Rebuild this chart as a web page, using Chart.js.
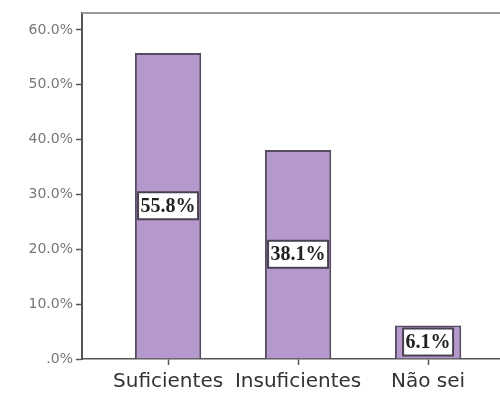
<!DOCTYPE html>
<html>
<head>
<meta charset="utf-8">
<script src="https://cdn.jsdelivr.net/npm/chart.js@4/dist/chart.umd.min.js"></script>
<style>
  body { margin: 0; background: #fff; }
  #wrap { width: 500px; height: 394px; overflow: hidden; position: relative; }
</style>
</head>
<body>
<div id="wrap"><canvas id="chart" width="520" height="394"></canvas></div>
<script>
const categories = ["Suficientes", "Insuficientes", "Não sei"];
const percentValues = [55.8, 38.1, 6.1];
const yTickValues = [0, 10, 20, 30, 40, 50, 60];

// white boxes with the percentage in the middle of each bar
const barLabels = {
  id: "barLabels",
  afterDatasetsDraw(chart) {
    const ctx = chart.ctx;
    const meta = chart.getDatasetMeta(0);
    ctx.save();
    ctx.font = "bold 20px 'Liberation Serif'";
    ctx.textAlign = "center";
    ctx.textBaseline = "middle";
    meta.data.forEach((bar, i) => {
      const txt = percentValues[i].toFixed(1) + "%";
      const w = ctx.measureText(txt).width + 5;
      const h = 27;
      const cy = (bar.y + bar.base) / 2;
      ctx.fillStyle = "#fff";
      ctx.fillRect(bar.x - w / 2, cy - h / 2, w, h);
      ctx.strokeStyle = "#4a4252";
      ctx.lineWidth = 2;
      ctx.strokeRect(bar.x - w / 2, cy - h / 2, w, h);
      ctx.fillStyle = "#222";
      ctx.fillText(txt, bar.x, cy + 1);
    });
    ctx.restore();
  }
};

// top edge of the frame
const topFrame = {
  id: "topFrame",
  beforeDatasetsDraw(chart) {
    const { ctx, chartArea } = chart;
    ctx.save();
    ctx.strokeStyle = "#9a9a9a";
    ctx.lineWidth = 2;
    ctx.beginPath();
    ctx.moveTo(chartArea.left, chartArea.top);
    ctx.lineTo(chartArea.right, chartArea.top);
    ctx.stroke();
    ctx.restore();
  }
};

new Chart(document.getElementById("chart"), {
  type: "bar",
  data: {
    datasets: [{
      data: percentValues.map((v, i) => ({ x: i, y: v })),
      backgroundColor: "#b598cc",
      borderColor: "#574a63",
      borderWidth: 2,
      barPercentage: 0.51,
      categoryPercentage: 1
    }]
  },
  options: {
    responsive: false,
    animation: false,
    layout: { padding: { top: 13, left: 0, right: 0, bottom: 0 } },
    plugins: { legend: { display: false }, tooltip: { enabled: false } },
    scales: {
      x: {
        type: "linear",
        offset: false,
        min: -0.662,
        max: 2.707,
        afterBuildTicks: s => { s.ticks = categories.map((c, i) => ({ value: i })); },
        afterFit: s => { s.height = 35; },
        ticks: {
          callback: v => categories[v],
          color: "#333",
          font: { family: "'DejaVu Sans'", size: 20 },
          padding: 5,
          maxRotation: 0,
          autoSkip: false
        },
        grid: { offset: false, drawOnChartArea: false, tickLength: 6, color: "#555", tickWidth: 1.5 },
        border: { color: "#555", width: 1.5 }
      },
      y: {
        min: 0,
        max: 63.1,
        afterBuildTicks: s => { s.ticks = yTickValues.map(v => ({ value: v })); },
        afterFit: s => { s.width = 82; },
        ticks: {
          callback: v => (v === 0 ? ".0%" : v.toFixed(1) + "%"),
          color: "#777",
          font: { family: "'DejaVu Sans'", size: 14 },
          padding: 3
        },
        grid: { drawOnChartArea: false, tickLength: 6, color: "#555", tickWidth: 1.5 },
        border: { color: "#555", width: 2 }
      }
    }
  },
  plugins: [topFrame, barLabels]
});
</script>
</body>
</html>
